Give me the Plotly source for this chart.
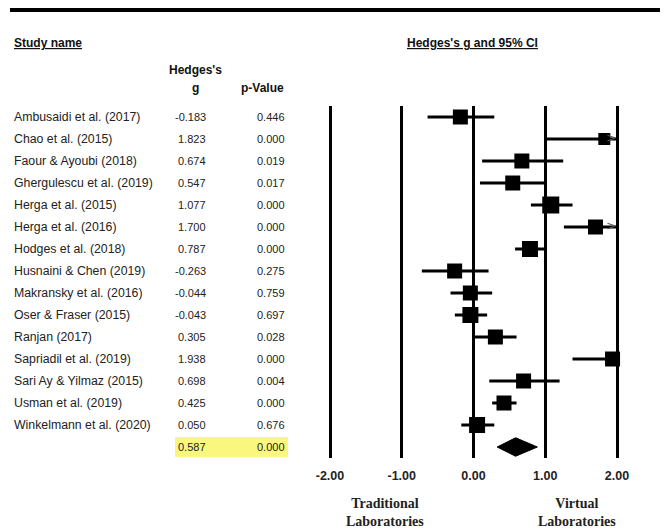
import plotly.graph_objects as go

# ---------------- data ----------------
studies = [
    "Ambusaidi et al. (2017)", "Chao et al. (2015)", "Faour & Ayoubi (2018)",
    "Ghergulescu et al. (2019)", "Herga et al. (2015)", "Herga et al. (2016)",
    "Hodges et al. (2018)", "Husnaini & Chen (2019)", "Makransky et al. (2016)",
    "Oser & Fraser (2015)", "Ranjan (2017)", "Sapriadil et al. (2019)",
    "Sari Ay & Yilmaz (2015)", "Usman et al. (2019)", "Winkelmann et al. (2020)",
]
hedges_g = [-0.183, 1.823, 0.674, 0.547, 1.077, 1.700, 0.787, -0.263, -0.044,
            -0.043, 0.305, 1.938, 0.698, 0.425, 0.050]
p_values = ["0.446", "0.000", "0.019", "0.017", "0.000", "0.000", "0.000", "0.275",
            "0.759", "0.697", "0.028", "0.000", "0.004", "0.000", "0.676"]
ci_low = [-0.64, 1.01, 0.12, 0.09, 0.80, 1.26, 0.58, -0.72, -0.32,
          -0.26, 0.01, 1.38, 0.22, 0.26, -0.17]
ci_high = [0.29, 2.64, 1.25, 1.00, 1.38, 2.14, 1.00, 0.21, 0.26,
           0.19, 0.60, 2.00, 1.20, 0.60, 0.29]

summary_g = 0.587
summary_p = "0.000"
summary_low = 0.33
summary_high = 0.89

tick_vals = [-2, -1, 0, 1, 2]
tick_text = ["-2.00", "-1.00", "0.00", "1.00", "2.00"]

# ---------------- styles ----------------
marker_sizes = [15, 12, 15, 15, 17, 15, 16, 15, 15, 16, 15, 15, 15, 15, 16]
W, H = 669, 529
NARROW = "Liberation Sans Narrow, Arial Narrow, Liberation Sans, Arial, sans-serif"
SERIF = "Liberation Serif, Times New Roman, serif"
AXIS_MAX = 2.0


def px(x):
    return x / W


def py(y):
    return 1 - y / H


rows = list(range(len(studies)))
summary_row = len(studies)

fig = go.Figure()

# clipped CI whiskers
hi_clip = [min(h, AXIS_MAX) for h in ci_high]
fig.add_trace(go.Scatter(
    x=hedges_g, y=rows, mode="markers",
    marker=dict(symbol="square", size=marker_sizes, color="black", opacity=1,
                line=dict(width=0)),
    error_x=dict(type="data", symmetric=False,
                 array=[h - g for h, g in zip(hi_clip, hedges_g)],
                 arrayminus=[g - l for g, l in zip(hedges_g, ci_low)],
                 thickness=3, width=0, color="black"),
    cliponaxis=False, hoverinfo="skip", showlegend=False,
))

# arrows for CIs extending beyond the axis
arrow_rows = [r for r, h in zip(rows, ci_high) if h > AXIS_MAX]
fig.add_trace(go.Scatter(
    x=[AXIS_MAX] * len(arrow_rows), y=arrow_rows, mode="text",
    text=[">"] * len(arrow_rows), textposition="middle left",
    textfont=dict(size=13, color="#555555", family="DejaVu Sans"),
    cliponaxis=False, hoverinfo="skip", showlegend=False,
))

# summary diamond
half_h = 0.42
fig.add_trace(go.Scatter(
    x=[summary_low, summary_g, summary_high, summary_g, summary_low],
    y=[summary_row, summary_row - half_h, summary_row, summary_row + half_h, summary_row],
    mode="lines", fill="toself", fillcolor="black",
    line=dict(color="black", width=1),
    hoverinfo="skip", showlegend=False,
))

x0_px, unit_px = 473.5, 71.75
rng = [-2.2, 2.2]
dom = [px(x0_px + rng[0] * unit_px), px(x0_px + rng[1] * unit_px)]

fig.update_layout(
    width=W, height=H,
    margin=dict(l=0, r=0, t=0, b=0),
    paper_bgcolor="white", plot_bgcolor="white",
    font=dict(family=NARROW, color="#222222"),
    xaxis=dict(domain=dom, range=rng, tickvals=tick_vals, ticktext=tick_text,
               showgrid=True, gridcolor="black", gridwidth=3, zeroline=False,
               showline=False, ticks="", ticklabelstandoff=8,
               tickfont=dict(family=NARROW, size=12.5, color="#222222", weight="bold")),
    yaxis=dict(domain=[py(458), py(106)], range=[summary_row + 0.5, -0.5],
               showgrid=False, zeroline=False, showticklabels=False, ticks=""),
)

ann = []
val_font = dict(size=11, family=NARROW, color="#222222")
for r, name, g, p in zip(rows, studies, hedges_g, p_values):
    ann.append(dict(x=px(12), y=r, xref="paper", yref="y", text=name,
                    xanchor="left", yanchor="middle", showarrow=False,
                    font=dict(size=12.3, family=NARROW, color="#222222")))
    ann.append(dict(x=px(208), y=r, xref="paper", yref="y", text=f"{g:.3f}",
                    xanchor="right", yanchor="middle", showarrow=False, font=val_font))
    ann.append(dict(x=px(287), y=r, xref="paper", yref="y", text=p,
                    xanchor="right", yanchor="middle", showarrow=False, font=val_font))
ann.append(dict(x=px(208), y=summary_row, xref="paper", yref="y", text=f"{summary_g:.3f}",
                xanchor="right", yanchor="middle", showarrow=False, font=val_font))
ann.append(dict(x=px(287), y=summary_row, xref="paper", yref="y", text=summary_p,
                xanchor="right", yanchor="middle", showarrow=False, font=val_font))

# headers
hdr = dict(family=NARROW, size=12, color="#111111", weight="bold")
ann += [
    dict(x=px(12), y=py(43), xref="paper", yref="paper", text="<u>Study name</u>",
         xanchor="left", yanchor="middle", showarrow=False, font=hdr),
    dict(x=px(472), y=py(43), xref="paper", yref="paper",
         text="<u>Hedges's g and 95% CI</u>",
         xanchor="center", yanchor="middle", showarrow=False, font=hdr),
    dict(x=px(196), y=py(70), xref="paper", yref="paper", text="Hedges's",
         xanchor="center", yanchor="middle", showarrow=False, font=hdr),
    dict(x=px(196), y=py(88), xref="paper", yref="paper", text="g",
         xanchor="center", yanchor="middle", showarrow=False, font=hdr),
    dict(x=px(286), y=py(88), xref="paper", yref="paper", text="p-Value",
         xanchor="right", yanchor="middle", showarrow=False, font=hdr),
    dict(x=px(385), y=py(512), xref="paper", yref="paper",
         text="Traditional<br>Laboratories",
         xanchor="center", yanchor="middle", showarrow=False,
         font=dict(family=SERIF, size=14, color="#222222", weight="bold")),
    dict(x=px(577), y=py(512), xref="paper", yref="paper",
         text="Virtual<br>Laboratories",
         xanchor="center", yanchor="middle", showarrow=False,
         font=dict(family=SERIF, size=14, color="#222222", weight="bold")),
]
fig.update_layout(annotations=ann)

fig.update_layout(shapes=[
    dict(type="line", xref="paper", yref="paper", x0=px(10), x1=px(660),
         y0=py(10), y1=py(10), line=dict(color="black", width=4)),
    dict(type="rect", xref="paper", yref="y", x0=px(175), x1=px(288),
         y0=summary_row - 0.45, y1=summary_row + 0.45,
         fillcolor="#FAF77E", line=dict(width=0), layer="below"),
])

fig.write_html("out.html", config={"displayModeBar": False},
               post_script="document.body.style.margin='0';document.body.style.overflow='hidden';")
